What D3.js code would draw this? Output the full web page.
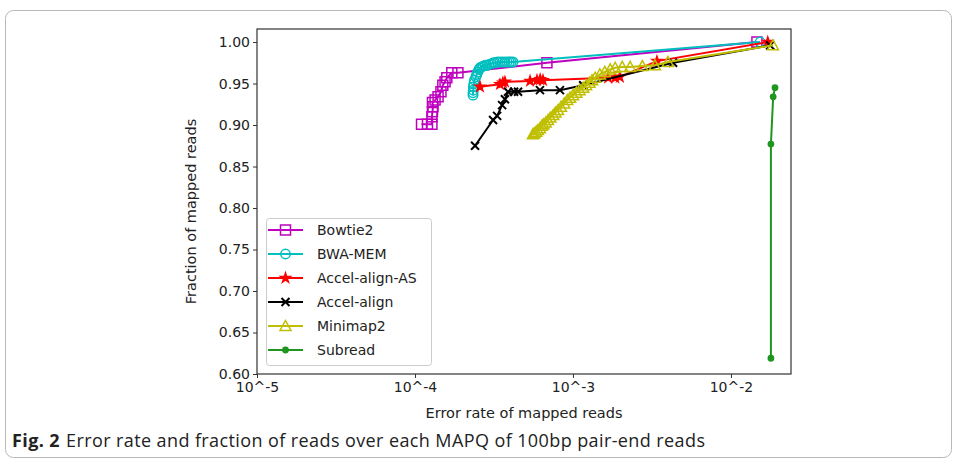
<!DOCTYPE html>
<html>
<head>
<meta charset="utf-8">
<script src="https://cdn.jsdelivr.net/npm/d3@7"></script>
<style>
  body { margin: 0; background: #fff; }
  svg { display: block; }
  .tick text { font-family: "DejaVu Sans", sans-serif; font-size: 14px; fill: #222; }
</style>
</head>
<body>
<svg id="chart" width="958" height="459"></svg>
<script>
// error rate (x) and fraction of mapped reads (y) per tool
const bowtieX = [1.10e-4, 1.20e-4, 1.28e-4, 1.28e-4, 1.29e-4, 1.30e-4, 1.29e-4, 1.34e-4, 1.40e-4, 1.46e-4, 1.50e-4, 1.55e-4, 1.59e-4, 1.71e-4, 1.87e-4, 6.84e-4, 0.0146]
const bowtieY = [0.901, 0.901, 0.901, 0.910, 0.916, 0.922, 0.927, 0.930, 0.934, 0.940, 0.948, 0.952, 0.957, 0.963, 0.963, 0.975, 1.0]

const bwaX = [2.33e-4, 2.33e-4, 2.34e-4, 2.34e-4, 2.36e-4, 2.38e-4, 2.43e-4, 2.46e-4, 2.50e-4, 2.54e-4, 2.58e-4, 2.64e-4, 2.70e-4, 2.78e-4, 2.86e-4, 2.95e-4, 3.05e-4, 3.13e-4, 3.21e-4, 3.33e-4, 3.45e-4, 3.58e-4, 3.71e-4, 3.83e-4, 3.95e-4, 4.06e-4, 4.17e-4, 0.0153]
const bwaY = [0.936, 0.939, 0.942, 0.946, 0.950, 0.954, 0.958, 0.961, 0.964, 0.967, 0.969, 0.970, 0.971, 0.972, 0.972, 0.973, 0.974, 0.975, 0.975, 0.976, 0.976, 0.976, 0.976, 0.976, 0.976, 0.976, 0.976, 1.0]

const asX = [2.58e-4, 3.45e-4, 3.60e-4, 3.71e-4, 5.35e-4, 5.92e-4, 6.20e-4, 6.46e-4, 1.67e-3, 1.85e-3, 1.98e-3, 3.40e-3, 0.0171]
const asY = [0.946, 0.949, 0.951, 0.952, 0.953, 0.954, 0.955, 0.954, 0.957, 0.957, 0.958, 0.977, 1.0]

const accelX = [2.40e-4, 3.12e-4, 3.31e-4, 3.56e-4, 3.71e-4, 3.88e-4, 4.24e-4, 4.49e-4, 6.18e-4, 8.27e-4, 1.16e-3, 4.30e-3, 0.0177]
const accelY = [0.875, 0.906, 0.911, 0.924, 0.931, 0.940, 0.940, 0.940, 0.942, 0.942, 0.948, 0.975, 0.996]

const minimapX = [5.58e-4, 5.70e-4, 5.85e-4, 6.00e-4, 6.18e-4, 6.35e-4, 6.50e-4, 6.72e-4, 6.95e-4, 7.20e-4, 7.50e-4, 7.75e-4, 8.04e-4, 8.40e-4, 8.80e-4, 9.20e-4, 9.57e-4, 1.00e-3, 1.05e-3, 1.10e-3, 1.16e-3, 1.21e-3, 1.27e-3, 1.32e-3, 1.38e-3, 1.48e-3, 1.59e-3, 1.72e-3, 1.85e-3, 2.05e-3, 2.30e-3, 2.75e-3, 3.30e-3, 3.99e-3, 0.01845]
const minimapY = [0.889, 0.890, 0.892, 0.894, 0.896, 0.899, 0.901, 0.903, 0.906, 0.909, 0.912, 0.915, 0.918, 0.922, 0.926, 0.930, 0.933, 0.936, 0.939, 0.942, 0.945, 0.948, 0.951, 0.954, 0.957, 0.961, 0.964, 0.967, 0.969, 0.970, 0.970, 0.971, 0.972, 0.976, 0.996]

const subreadX = [0.0190, 0.0185, 0.0179, 0.0179]
const subreadY = [0.945, 0.934, 0.877, 0.619]

const xTicks = [1e-5, 1e-4, 1e-3, 1e-2]
const yTicks = [0.60, 0.65, 0.70, 0.75, 0.80, 0.85, 0.90, 0.95, 1.00]

const series = [
  { name: "Bowtie2", xs: bowtieX, ys: bowtieY, color: "#bf00bf", marker: "square" },
  { name: "BWA-MEM", xs: bwaX, ys: bwaY, color: "#00bfbf", marker: "circle" },
  { name: "Accel-align-AS", xs: asX, ys: asY, color: "#ff0000", marker: "star" },
  { name: "Accel-align", xs: accelX, ys: accelY, color: "#000000", marker: "x" },
  { name: "Minimap2", xs: minimapX, ys: minimapY, color: "#bfbf00", marker: "triangle" },
  { name: "Subread", xs: subreadX, ys: subreadY, color: "#1f961f", marker: "dot" }
]

const svg = d3.select("#chart")
const plotLeft = 257, plotRight = 791, plotTop = 29, plotBottom = 374

// outer figure frame
svg.append("rect")
  .attr("x", 5.5).attr("y", 10.5)
  .attr("width", 946).attr("height", 447)
  .attr("rx", 8)
  .attr("fill", "none")
  .attr("stroke", "#b8b8b8")

const x = d3.scaleLog()
  .domain([1e-5, Math.pow(10, -1.62)])
  .range([plotLeft, plotRight])

const y = d3.scaleLinear()
  .domain([0.6, 1.0157])
  .range([plotBottom, plotTop])

svg.append("g")
  .attr("transform", `translate(0,${plotBottom})`)
  .call(d3.axisBottom(x).tickValues(xTicks).tickFormat(d => "10^" + Math.round(Math.log10(d))).tickSize(4).tickPadding(4))
  .call(g => g.select(".domain").remove())

svg.append("g")
  .attr("transform", `translate(${plotLeft},0)`)
  .call(d3.axisLeft(y).tickValues(yTicks).tickFormat(d3.format(".2f")).tickSize(4).tickPadding(3))
  .call(g => g.select(".domain").remove())

svg.selectAll(".tick line").attr("stroke", "#333")

// plot frame
svg.append("rect")
  .attr("x", plotLeft).attr("y", plotTop)
  .attr("width", plotRight - plotLeft).attr("height", plotBottom - plotTop)
  .attr("fill", "none")
  .attr("stroke", "#333")
  .attr("stroke-width", 1.2)

function markerPath(type) {
  if (type === "square") return "M-5,-5H5V5H-5Z"
  if (type === "circle") return d3.symbol(d3.symbolCircle, 70)()
  if (type === "star") return d3.symbol(d3.symbolStar, 28)()
  if (type === "x") return "M-4,-4L4,4M-4,4L4,-4"
  if (type === "triangle") return "M0,-5.5L5.5,4.5H-5.5Z"
  return d3.symbol(d3.symbolCircle, 22)()
}

function drawMarker(g, type, color) {
  const filled = type === "star" || type === "dot"
  g.append("path")
    .attr("d", markerPath(type))
    .attr("fill", filled ? color : "none")
    .attr("stroke", color)
    .attr("stroke-width", type === "x" ? 2 : 1.5)
}

const line = d3.line().x(d => x(d[0])).y(d => y(d[1]))

series.forEach(s => {
  const pts = s.xs.map((v, i) => [v, s.ys[i]])
  const g = svg.append("g")
  g.append("path")
    .attr("d", line(pts))
    .attr("fill", "none")
    .attr("stroke", s.color)
    .attr("stroke-width", 2)
  pts.forEach(p => {
    const m = g.append("g").attr("transform", `translate(${x(p[0])},${y(p[1])})`)
    drawMarker(m, s.marker, s.color)
  })
})

// legend
const legend = svg.append("g")
legend.append("rect")
  .attr("x", 266.5).attr("y", 218.5)
  .attr("width", 165).attr("height", 147)
  .attr("rx", 3)
  .attr("fill", "#fff")
  .attr("fill-opacity", 0.85)
  .attr("stroke", "#ccc")

series.forEach((s, i) => {
  const ly = 230 + i * 24
  legend.append("line")
    .attr("x1", 268).attr("x2", 303)
    .attr("y1", ly).attr("y2", ly)
    .attr("stroke", s.color)
    .attr("stroke-width", 2)
  drawMarker(legend.append("g").attr("transform", `translate(285.5,${ly})`), s.marker, s.color)
  legend.append("text")
    .attr("x", 317).attr("y", ly + 5)
    .attr("font-family", "DejaVu Sans, sans-serif")
    .attr("font-size", 14)
    .attr("fill", "#222")
    .text(s.name)
})

// axis titles
svg.append("text")
  .attr("x", (plotLeft + plotRight) / 2).attr("y", 418)
  .attr("text-anchor", "middle")
  .attr("font-family", "DejaVu Sans, sans-serif")
  .attr("font-size", 14.5)
  .attr("fill", "#222")
  .text("Error rate of mapped reads")

svg.append("text")
  .attr("transform", `translate(196,${(plotTop + plotBottom) / 2 + 10}) rotate(-90)`)
  .attr("text-anchor", "middle")
  .attr("font-family", "DejaVu Sans, sans-serif")
  .attr("font-size", 14.5)
  .attr("fill", "#222")
  .text("Fraction of mapped reads")

// caption
const cap = svg.append("text")
  .attr("x", 12).attr("y", 447)
  .attr("font-family", "Open Sans, sans-serif")
  .attr("font-size", 18)
  .attr("letter-spacing", 0.4)
  .attr("fill", "#222")
cap.append("tspan").attr("font-weight", "bold").text("Fig. 2")
cap.append("tspan").attr("dx", 6).text("Error rate and fraction of reads over each MAPQ of 100bp pair-end reads")
</script>
</body>
</html>
